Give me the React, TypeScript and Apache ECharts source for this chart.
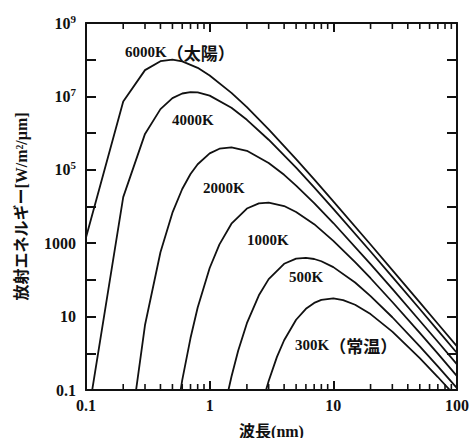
import React, { useEffect, useRef } from "react";
import * as echarts from "echarts";

// Wavelength (μm) and radiant exitance (W/m²/μm), one pair of arrays per curve
const lam6000 = [0.1, 0.2, 0.3, 0.4, 0.5, 0.6, 0.8, 1, 1.5, 2, 3, 5, 7, 10, 20, 30, 50, 70, 100];
const val6000 = [1440, 7.3e6, 5.2e7, 9.1e7, 1.0e8, 9.0e7, 6.0e7, 3.7e7, 1.25e7, 5.1e6, 1.26e6, 1.95e5, 5.5e4, 1.38e4, 920, 185, 24.4, 6.4, 1.54];

const lam4000 = [0.1, 0.2, 0.3, 0.4, 0.5, 0.6, 0.7, 0.8, 1, 1.5, 2, 3, 5, 7, 10, 20, 30, 50, 70, 100];
const val4000 = [0.0089, 1.8e4, 9.5e5, 4.5e6, 9.0e6, 1.2e7, 1.31e7, 1.29e7, 1.05e7, 4.9e6, 2.3e6, 6.6e5, 1.14e5, 3.3e4, 8.6e3, 594, 121, 16.1, 4.2, 1.02];

const lam2000 = [0.2, 0.3, 0.4, 0.5, 0.6, 0.7, 0.8, 1, 1.2, 1.5, 2, 3, 4, 5, 7, 10, 20, 30, 50, 70, 100];
const val2000 = [2.8e-4, 5.9, 565, 6.8e3, 3.0e4, 7.7e4, 1.42e5, 2.8e5, 3.76e5, 4.1e5, 3.3e5, 1.54e5, 7.3e4, 3.7e4, 1.24e4, 3.55e3, 270, 57, 7.7, 2.06, 0.5];

const lam1000 = [0.5, 0.6, 0.7, 0.8, 1, 1.2, 1.5, 2, 2.5, 3, 4, 5, 7, 10, 15, 20, 30, 50, 70, 100];
const val1000 = [0.0038, 0.185, 2.6, 17.7, 211, 930, 3.4e3, 8.8e3, 1.22e4, 1.28e4, 1.03e4, 7.1e3, 3.3e3, 1.16e3, 306, 111, 25, 3.6, 0.98, 0.24];

const lam500 = [1.2, 1.4, 1.5, 1.7, 2, 2.5, 3, 4, 5, 6, 7, 8, 10, 15, 20, 30, 50, 70, 100];
const val500 = [0.0058, 0.082, 0.23, 1.17, 6.6, 38, 105, 275, 380, 400, 371, 322, 223, 85, 36, 9.6, 1.54, 0.44, 0.112];

const lam300 = [2.5, 2.8, 3, 3.5, 4, 5, 6, 7, 8, 10, 12, 15, 20, 30, 50, 70, 100];
const val300 = [0.018, 0.079, 0.176, 0.8, 2.27, 8.2, 16.3, 23.6, 28.5, 31.2, 28.2, 21, 11.7, 3.9, 0.74, 0.226, 0.061];

const curveNames = ["6000K", "4000K", "2000K", "1000K", "500K", "300K"];
const curveTemps = ["6000K", "4000K", "2000K", "1000K", "500K", "300K"];
const curveNotes = ["（太陽）", "", "", "", "", "（常温）"];

// Axis ticks (raw values)
const xMajorTicks = [0.1, 1, 10, 100];
const xMajorLabels = ["0.1", "1", "10", "100"];
const xMinorTicks = [0.2, 0.3, 0.4, 0.5, 0.6, 0.7, 0.8, 0.9, 2, 3, 4, 5, 6, 7, 8, 9, 20, 30, 40, 50, 60, 70, 80, 90];
const yLabelExp = [-1, 1, 3, 5, 7, 9];
const yLabelText = ["0.1", "10", "1000", "10{s|5}", "10{s|7}", "10{s|9}"];

const SERIF = "'Liberation Serif', 'Noto Sans CJK JP', serif";
const CJK = "'Noto Sans CJK JP', sans-serif";
const MIXED = "'Liberation Serif', 'Noto Sans CJK JP', sans-serif";

export default function App() {
  const ref = useRef<HTMLDivElement>(null);
  useEffect(() => {
    if (!ref.current) return;
    const chart = echarts.init(ref.current, undefined, { renderer: "svg" });
    const lg = Math.log10;
    const pairs: [number[], number[]][] = [
      [lam6000, val6000],
      [lam4000, val4000],
      [lam2000, val2000],
      [lam1000, val1000],
      [lam500, val500],
      [lam300, val300],
    ];
    const lineCol = "#111";
    const axisLine = { show: true, onZero: false, lineStyle: { color: lineCol, width: 2 } };
    const labelMap: Record<string, string> = {};
    xMajorTicks.forEach((t, i) => (labelMap[String(Math.round(lg(t)))] = xMajorLabels[i]));
    const yMap: Record<string, string> = {};
    yLabelExp.forEach((e, i) => (yMap[String(e)] = yLabelText[i]));

    chart.setOption({
      animation: false,
      backgroundColor: "#fff",
      grid: { left: 86, right: 14, top: 23, bottom: 48, outerBoundsMode: "none", containLabel: false },
      xAxis: [
        {
          type: "value",
          min: -1,
          max: 2,
          interval: 1,
          position: "bottom",
          splitLine: { show: false },
          axisLine,
          axisTick: { show: true, inside: true, length: 9, lineStyle: { color: lineCol, width: 2 } },
          axisLabel: {
            formatter: (v: number) => labelMap[String(Math.round(v))] ?? "",
            fontFamily: SERIF,
            fontWeight: "bold",
            fontSize: 16,
            color: "#111",
            margin: 7,
          },
          name: "波長(nm)",
          nameLocation: "middle",
          nameGap: 33,
          nameTextStyle: { fontFamily: MIXED, fontWeight: "bold", fontSize: 16, color: "#111" },
        },
        {
          type: "value",
          min: -1,
          max: 2,
          interval: 1,
          position: "top",
          splitLine: { show: false },
          axisLine,
          axisTick: { show: true, inside: true, length: 9, lineStyle: { color: lineCol, width: 2 } },
          axisLabel: { show: false },
        },
      ],
      yAxis: [
        {
          type: "value",
          min: -1,
          max: 9,
          interval: 1,
          position: "left",
          splitLine: { show: false },
          axisLine,
          axisTick: { show: true, inside: true, length: 10, lineStyle: { color: lineCol, width: 2 } },
          axisLabel: {
            formatter: (v: number) => yMap[String(v)] ?? "",
            margin: 10,
            fontFamily: SERIF,
            fontWeight: "bold",
            fontSize: 16,
            color: "#111",
            rich: {
              s: { fontFamily: SERIF, fontWeight: "bold", fontSize: 11, color: "#111", padding: [0, 0, 9, 0] },
            },
          },
          name: "放射エネルギー[W/m²/μm]",
          nameLocation: "middle",
          nameGap: 57,
          nameRotate: 90,
          nameTextStyle: { fontFamily: MIXED, fontWeight: "bold", fontSize: 16, color: "#111" },
        },
        {
          type: "value",
          min: -1,
          max: 9,
          interval: 1,
          position: "right",
          splitLine: { show: false },
          axisLine,
          axisTick: { show: true, inside: true, length: 10, lineStyle: { color: lineCol, width: 2 } },
          axisLabel: { show: false },
        },
      ],
      series: [
        ...pairs.map(([lam, val], i) => ({
          name: curveNames[i],
          type: "line",
          xAxisIndex: 0,
          yAxisIndex: 0,
          showSymbol: false,
          symbol: "none",
          clip: true,
          lineStyle: { color: lineCol, width: 1.8 },
          data: lam.map((l, j) => [lg(l), lg(val[j])]),
        })),
        {
          name: "minorTicks",
          type: "custom",
          xAxisIndex: 0,
          yAxisIndex: 0,
          silent: true,
          clip: false,
          data: xMinorTicks.map((t) => [lg(t), -1]),
          renderItem: (params: any, api: any) => {
            const x = api.coord([api.value(0), -1])[0];
            const yb = api.coord([0, -1])[1];
            const yt = api.coord([0, 9])[1];
            const st = { stroke: lineCol, lineWidth: 1.6 };
            return {
              type: "group",
              children: [
                { type: "line", shape: { x1: x, y1: yb, x2: x, y2: yb - 6 }, style: st },
                { type: "line", shape: { x1: x, y1: yt, x2: x, y2: yt + 6 }, style: st },
              ],
            };
          },
        },
      ],
      graphic: [
        [125, 52],
        [172, 120],
        [203, 188],
        [247, 240],
        [289, 277],
        [295, 345],
      ].map(([x, y], i) => ({
        type: "text",
        x,
        y,
        style: {
          text: curveNotes[i] ? `{t|${curveTemps[i]}}{n|${curveNotes[i]}}` : `{t|${curveTemps[i]}}`,
          fill: "#111",
          verticalAlign: "middle",
          align: "left",
          rich: {
            t: { fontFamily: SERIF, fontWeight: "bold", fontSize: 15, fill: "#111" },
            n: { fontFamily: CJK, fontWeight: "bold", fontSize: 17, fill: "#111" },
          },
        },
      })),
    });
    return () => chart.dispose();
  }, []);
  return (
    <div
      ref={ref}
      style={{ position: "fixed", left: 0, top: 0, width: 471, height: 438, background: "#fff" }}
    />
  );
}
